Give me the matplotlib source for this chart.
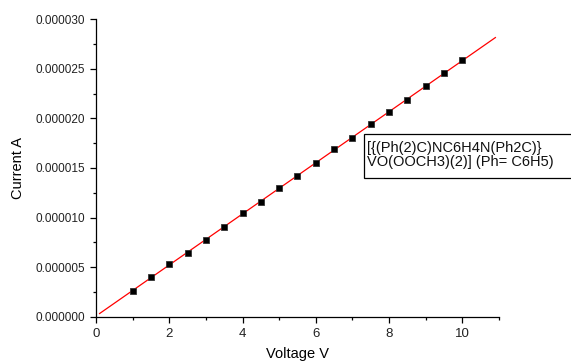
import matplotlib
matplotlib.use("Agg")
import matplotlib.pyplot as plt
import matplotlib.patches as mpatches
from matplotlib.ticker import MultipleLocator, FormatStrFormatter
import numpy as np

voltage = [1.0, 1.5, 2.0, 2.5, 3.0, 3.5, 4.0, 4.5, 5.0, 5.5,
           6.0, 6.5, 7.0, 7.5, 8.0, 8.5, 9.0, 9.5, 10.0]
current = [2.64e-6, 3.97e-6, 5.27e-6, 6.47e-6, 7.74e-6, 9.04e-6, 10.5e-6, 11.6e-6,
           13.0e-6, 14.17e-6, 15.47e-6, 16.9e-6, 18.07e-6, 19.4e-6, 20.6e-6,
           21.9e-6, 23.27e-6, 24.6e-6, 25.87e-6]
fit_range = (0.1, 10.9)
legend_text = "[{(Ph(2)C)NC6H4N(Ph2C)}\nVO(OOCH3)(2)] (Ph= C6H5)"

plt.rcParams["font.family"] = ["Liberation Sans", "DejaVu Sans"]

fig = plt.figure(figsize=(5.71, 3.62), dpi=100)
ax = fig.add_axes([0.168, 0.125, 0.706, 0.822])

# linear fit
slope, icpt = np.polyfit(voltage, current, 1)
xf = np.array(fit_range)
ax.plot(xf, slope * xf + icpt, color="red", lw=0.9, zorder=2)
ax.plot(voltage, current, "s", color="black", markersize=5,
        markeredgecolor="#333333", markeredgewidth=0.6, zorder=3)

ax.set_xlim(0, 11)
ax.set_ylim(0, 3e-5)
ax.xaxis.set_major_locator(MultipleLocator(2))
ax.xaxis.set_minor_locator(MultipleLocator(1))
ax.yaxis.set_major_locator(MultipleLocator(5e-6))
ax.yaxis.set_minor_locator(MultipleLocator(2.5e-6))
ax.yaxis.set_major_formatter(FormatStrFormatter("%.6f"))
ax.tick_params(which="major", direction="out", length=4.5, width=0.9,
               labelsize=8.5, colors="black", labelcolor="#222222")
ax.tick_params(axis="x", which="major", labelsize=9.5)
ax.tick_params(which="minor", direction="out", length=2.5, width=0.9)
for s in ("top", "right"):
    ax.spines[s].set_visible(False)
for s in ("left", "bottom"):
    ax.spines[s].set_linewidth(0.9)

ax.set_xlabel("Voltage V", fontsize=10.5, labelpad=5)
ax.set_ylabel("Current A", fontsize=10.5, labelpad=7)

# legend box (runs off the right edge)
W, H = 571.0, 362.0
box = mpatches.Rectangle((364 / W, (H - 178) / H), 220 / W, 44 / H,
                         transform=fig.transFigure, facecolor="white",
                         edgecolor="black", lw=0.9, zorder=5)
fig.patches.append(box)
fig.text(367 / W, (H - 155) / H, legend_text, fontsize=10.5, va="center",
         ha="left", linespacing=1.05, color="#111111", zorder=6)

fig.savefig("out.png", dpi=100)
